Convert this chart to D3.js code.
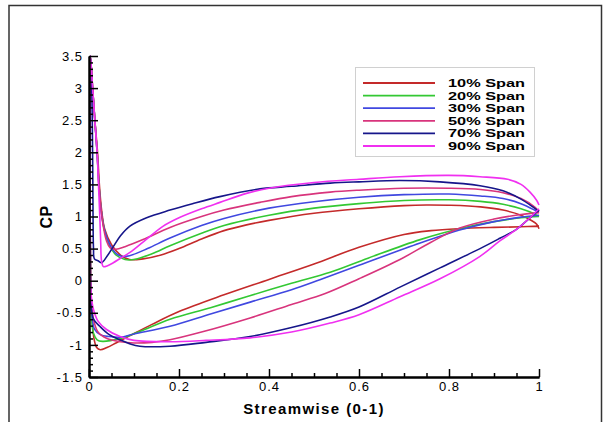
<!DOCTYPE html>
<html><head><meta charset="utf-8">
<script src="https://cdn.jsdelivr.net/npm/d3@7"></script>
<style>
body{margin:0;background:#fff}
text{font-family:"Liberation Sans",Arial,sans-serif}
</style>
</head><body><svg id="c" width="611" height="422"></svg>
<script>
// ---- data ----
const seriesLabels = ["10% Span","20% Span","30% Span","50% Span","70% Span","90% Span"];
const seriesColors = ["#c42a2a","#33c833","#4048e0","#d8347c","#16168a","#f030f0"];
const xTicks = [0,0.2,0.4,0.6,0.8,1];
const yTicks = [-1.5,-1,-0.5,0,0.5,1,1.5,2,2.5,3,3.5];

const span10Upper = [[0.003,3.5],[0.008,3.0],[0.013,2.5],[0.019,2.0],[0.023,1.5],[0.028,1.1],[0.035,0.8],[0.05,0.56],[0.07,0.4],[0.09,0.33],[0.12,0.34],[0.16,0.4],[0.2,0.5],[0.25,0.65],[0.3,0.78],[0.35,0.87],[0.4,0.94],[0.5,1.05],[0.6,1.12],[0.7,1.17],[0.75,1.18],[0.8,1.175],[0.87,1.15],[0.92,1.1],[0.96,1.02],[0.98,0.95],[0.995,0.88],[1.0,0.81]];
const span10Lower = [[0.003,3.5],[0.002,2.5],[0.002,1.5],[0.003,0.5],[0.004,-0.2],[0.007,-0.6],[0.011,-0.9],[0.017,-1.04],[0.025,-1.075],[0.04,-1.04],[0.06,-0.97],[0.09,-0.86],[0.14,-0.68],[0.2,-0.48],[0.3,-0.22],[0.4,0.02],[0.5,0.26],[0.6,0.52],[0.7,0.72],[0.76,0.78],[0.82,0.81],[0.9,0.83],[0.96,0.84],[1.0,0.85]];

const span20Upper = [[0.003,3.5],[0.008,3.0],[0.013,2.5],[0.018,2.0],[0.022,1.5],[0.027,1.1],[0.034,0.8],[0.045,0.56],[0.06,0.4],[0.08,0.33],[0.1,0.33],[0.14,0.42],[0.18,0.545],[0.25,0.74],[0.3,0.86],[0.4,1.02],[0.5,1.13],[0.6,1.2],[0.7,1.25],[0.8,1.26],[0.87,1.235],[0.92,1.19],[0.96,1.12],[0.99,1.04],[1.0,1.0]];
const span20Lower = [[0.003,3.5],[0.002,2.5],[0.002,1.5],[0.003,0.5],[0.004,-0.2],[0.006,-0.6],[0.01,-0.82],[0.018,-0.92],[0.03,-0.945],[0.05,-0.93],[0.08,-0.88],[0.12,-0.77],[0.18,-0.6],[0.27,-0.42],[0.35,-0.25],[0.45,-0.04],[0.536,0.13],[0.62,0.35],[0.736,0.64],[0.83,0.82],[0.9,0.92],[0.96,0.98],[1.0,1.0]];

const span30Upper = [[0.003,3.5],[0.008,3.0],[0.013,2.5],[0.018,2.0],[0.022,1.5],[0.027,1.1],[0.034,0.8],[0.045,0.58],[0.058,0.44],[0.072,0.38],[0.09,0.39],[0.13,0.5],[0.18,0.665],[0.25,0.86],[0.3,0.97],[0.4,1.13],[0.5,1.23],[0.6,1.3],[0.7,1.34],[0.8,1.35],[0.87,1.32],[0.92,1.28],[0.96,1.2],[0.99,1.1],[1.0,1.06]];
const span30Lower = [[0.003,3.5],[0.002,2.5],[0.002,1.5],[0.003,0.5],[0.004,-0.2],[0.007,-0.55],[0.012,-0.75],[0.025,-0.84],[0.045,-0.87],[0.07,-0.88],[0.1,-0.83],[0.18,-0.71],[0.27,-0.52],[0.36,-0.33],[0.45,-0.14],[0.513,0.016],[0.6,0.24],[0.736,0.587],[0.83,0.8],[0.9,0.92],[0.96,0.99],[1.0,1.02]];

const span50Upper = [[0.003,3.5],[0.008,3.0],[0.013,2.5],[0.018,2.0],[0.022,1.5],[0.027,1.1],[0.033,0.8],[0.039,0.62],[0.047,0.51],[0.06,0.49],[0.08,0.53],[0.12,0.64],[0.18,0.83],[0.25,1.0],[0.3,1.1],[0.38,1.22],[0.45,1.31],[0.536,1.38],[0.6,1.41],[0.7,1.44],[0.8,1.44],[0.87,1.42],[0.92,1.37],[0.96,1.28],[0.99,1.15],[1.0,1.08]];
const span50Lower = [[0.003,3.5],[0.002,2.5],[0.002,1.5],[0.003,0.5],[0.005,-0.3],[0.01,-0.6],[0.02,-0.8],[0.04,-0.9],[0.07,-0.95],[0.1,-0.97],[0.14,-0.96],[0.18,-0.92],[0.25,-0.8],[0.358,-0.58],[0.45,-0.37],[0.525,-0.2],[0.6,0.03],[0.691,0.33],[0.76,0.6],[0.824,0.82],[0.9,0.96],[0.96,1.03],[1.0,1.06]];

const span70Upper = [[0.003,3.5],[0.006,3.0],[0.008,2.0],[0.009,1.0],[0.01,0.5],[0.012,0.34],[0.02,0.31],[0.028,0.28],[0.04,0.38],[0.054,0.53],[0.07,0.7],[0.091,0.85],[0.128,0.98],[0.18,1.1],[0.23,1.2],[0.291,1.31],[0.38,1.43],[0.45,1.47],[0.536,1.52],[0.6,1.54],[0.691,1.56],[0.78,1.54],[0.869,1.48],[0.92,1.4],[0.96,1.27],[0.99,1.13],[1.0,1.08]];
const span70Lower = [[0.003,3.5],[0.002,2.5],[0.002,1.0],[0.003,0.0],[0.005,-0.4],[0.01,-0.6],[0.024,-0.71],[0.045,-0.84],[0.069,-0.92],[0.09,-0.98],[0.113,-1.02],[0.18,-1.02],[0.26,-0.96],[0.358,-0.87],[0.45,-0.73],[0.536,-0.565],[0.6,-0.41],[0.691,-0.1],[0.78,0.2],[0.869,0.5],[0.913,0.66],[0.95,0.8],[0.98,0.98],[1.0,1.1]];

const span90Upper = [[0.003,3.5],[0.008,3.0],[0.013,2.5],[0.018,2.0],[0.021,1.5],[0.024,1.0],[0.026,0.6],[0.028,0.3],[0.032,0.22],[0.04,0.23],[0.054,0.28],[0.07,0.35],[0.091,0.44],[0.12,0.6],[0.165,0.85],[0.2,0.98],[0.25,1.12],[0.291,1.22],[0.35,1.36],[0.4,1.44],[0.5,1.53],[0.6,1.58],[0.691,1.62],[0.8,1.64],[0.869,1.62],[0.93,1.58],[0.96,1.5],[0.98,1.38],[0.995,1.25],[1.0,1.18]];
const span90Lower = [[0.003,3.5],[0.002,2.5],[0.002,1.0],[0.003,0.0],[0.006,-0.3],[0.01,-0.45],[0.02,-0.63],[0.039,-0.76],[0.069,-0.87],[0.1,-0.93],[0.18,-0.95],[0.26,-0.93],[0.358,-0.89],[0.45,-0.8],[0.536,-0.66],[0.6,-0.53],[0.691,-0.25],[0.78,0.03],[0.869,0.38],[0.913,0.62],[0.95,0.8],[0.98,0.98],[1.0,1.12]];

const upperSides = [span10Upper,span20Upper,span30Upper,span50Upper,span70Upper,span90Upper];
const lowerSides = [span10Lower,span20Lower,span30Lower,span50Lower,span70Lower,span90Lower];

// ---- drawing ----
const svg = d3.select("#c");
svg.append("rect").attr("width",611).attr("height",422).attr("fill","#fff");
// outer frame
svg.append("path").attr("d","M9,422 V5.5 H601.5 V422").attr("fill","none").attr("stroke","#333").attr("stroke-width",1.5);

const x = d3.scaleLinear().domain([0,1]).range([89,539]);
const y = d3.scaleLinear().domain([-1.5,3.5]).range([377,56]);

const line = d3.line().x(d=>x(d[0])).y(d=>y(d[1])).curve(d3.curveCatmullRom.alpha(0.5));

const g = svg.append("g");
seriesLabels.forEach((lab,i)=>{
  const pts = lowerSides[i].slice().reverse().concat(upperSides[i].slice(1));
  g.append("path").attr("d",line(pts)).attr("fill","none")
    .attr("stroke",seriesColors[i]).attr("stroke-width",1.6).attr("stroke-linejoin","round");
});

// axes
const xMinor = d3.range(0,1.0001,0.05).map(v=>+v.toFixed(2)).filter(v=>!xTicks.includes(v));
const yMinor = d3.range(-1.5,3.5001,0.1).map(v=>+v.toFixed(1)).filter(v=>!yTicks.includes(v));

const xAxisMinor = svg.append("g").attr("transform","translate(0,377)")
  .call(d3.axisBottom(x).tickValues(xMinor).tickSize(-4).tickSizeOuter(0).tickFormat(""));
const yAxisMinor = svg.append("g").attr("transform","translate(89,0)")
  .call(d3.axisLeft(y).tickValues(yMinor).tickSize(-4).tickSizeOuter(0).tickFormat(""));
const xAxis = svg.append("g").attr("transform","translate(0,377)")
  .call(d3.axisBottom(x).tickValues(xTicks).tickSize(-8).tickSizeOuter(0).tickPadding(5).tickFormat(d=>String(d)));
const yAxis = svg.append("g").attr("transform","translate(89,0)")
  .call(d3.axisLeft(y).tickValues(yTicks).tickSize(-9).tickSizeOuter(0).tickPadding(6).tickFormat(d=>String(d)));

[xAxisMinor,yAxisMinor,xAxis,yAxis].forEach(a=>{
  a.selectAll("path.domain").attr("stroke","#000").attr("stroke-width",2);
  a.selectAll(".tick line").attr("stroke","#000").attr("stroke-width",1.5);
  a.selectAll("text").attr("fill","#000").style("font-size","13px").style("letter-spacing","1px")
   .style("font-family","'Liberation Sans',Arial,sans-serif");
});

// axis titles
svg.append("text").attr("x",314).attr("y",414).attr("text-anchor","middle")
  .style("font-size","15px").style("font-weight","bold").style("letter-spacing","1.4px")
  .text("Streamwise (0-1)");
svg.append("text").attr("transform","translate(52,217) rotate(-90)").attr("text-anchor","middle")
  .style("font-size","16px").style("font-weight","bold").style("letter-spacing","0.5px")
  .text("CP");

// legend
const lg = svg.append("g");
lg.append("rect").attr("x",355.5).attr("y",67.5).attr("width",179).attr("height",89)
  .attr("fill","#fff").attr("stroke","#d0d0d0").attr("stroke-width",1);
const rowY = d3.scalePoint().domain(seriesLabels).range([83,146]);
seriesLabels.forEach((lab,i)=>{
  const yy = rowY(lab);
  lg.append("line").attr("x1",363).attr("x2",435).attr("y1",yy).attr("y2",yy)
    .attr("stroke",seriesColors[i]).attr("stroke-width",1.8);
  lg.append("text").attr("x",448).attr("y",yy+4)
    .attr("textLength",77).attr("lengthAdjust","spacingAndGlyphs")
    .style("font-size","11px").style("font-weight","bold")
    .text(lab);
});
</script>
</body></html>
